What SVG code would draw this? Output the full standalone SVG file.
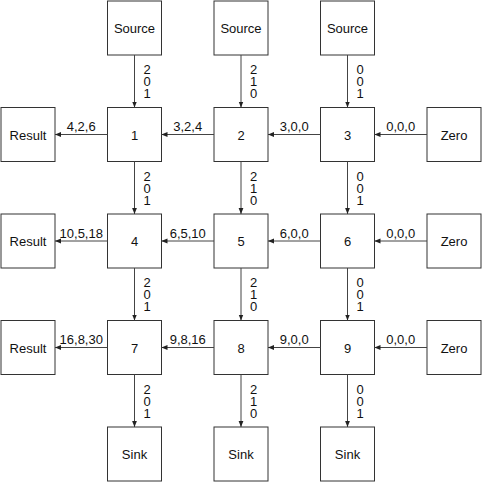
<svg xmlns="http://www.w3.org/2000/svg" width="483" height="483" viewBox="0 0 483 483">
<defs>
<marker id="ah" viewBox="0 0 6 6" refX="6" refY="3" markerWidth="6" markerHeight="6" markerUnits="userSpaceOnUse" orient="auto">
<path d="M0,0.6 L6,3 L0,5.4 Z" fill="#222"/>
</marker>
<style>
rect{fill:#fff;stroke:#333;stroke-width:1}
text{font-family:"Liberation Sans",Arial,sans-serif;font-size:13px;fill:#111}
.n{text-anchor:middle}
.e line{stroke:#444;stroke-width:1;marker-end:url(#ah)}
.l{font-size:13px}
.h{text-anchor:middle}
.v{font-size:13px;writing-mode:vertical-rl;text-orientation:upright;letter-spacing:-2.94px}
</style>
</defs>
<rect x="0" y="0" width="483" height="483" style="stroke:none;fill:#fff"/>
<g id="src1"><rect x="107.5" y="1" width="54" height="54"/><text class="n" x="134.5" y="33">Source</text></g>
<g id="src2"><rect x="214" y="1" width="54" height="54"/><text class="n" x="241" y="33">Source</text></g>
<g id="src3"><rect x="320.5" y="1" width="54" height="54"/><text class="n" x="347.5" y="33">Source</text></g>
<g id="res1"><rect x="1" y="107.5" width="54" height="54"/><text class="n" x="28" y="139.5">Result</text></g>
<g id="n1"><rect x="107.5" y="107.5" width="54" height="54"/><text class="n" x="134.5" y="139.5">1</text></g>
<g id="n2"><rect x="214" y="107.5" width="54" height="54"/><text class="n" x="241" y="139.5">2</text></g>
<g id="n3"><rect x="320.5" y="107.5" width="54" height="54"/><text class="n" x="347.5" y="139.5">3</text></g>
<g id="zero1"><rect x="427" y="107.5" width="54" height="54"/><text class="n" x="454" y="139.5">Zero</text></g>
<g id="res2"><rect x="1" y="214" width="54" height="54"/><text class="n" x="28" y="246">Result</text></g>
<g id="n4"><rect x="107.5" y="214" width="54" height="54"/><text class="n" x="134.5" y="246">4</text></g>
<g id="n5"><rect x="214" y="214" width="54" height="54"/><text class="n" x="241" y="246">5</text></g>
<g id="n6"><rect x="320.5" y="214" width="54" height="54"/><text class="n" x="347.5" y="246">6</text></g>
<g id="zero2"><rect x="427" y="214" width="54" height="54"/><text class="n" x="454" y="246">Zero</text></g>
<g id="res3"><rect x="1" y="320.5" width="54" height="54"/><text class="n" x="28" y="352.5">Result</text></g>
<g id="n7"><rect x="107.5" y="320.5" width="54" height="54"/><text class="n" x="134.5" y="352.5">7</text></g>
<g id="n8"><rect x="214" y="320.5" width="54" height="54"/><text class="n" x="241" y="352.5">8</text></g>
<g id="n9"><rect x="320.5" y="320.5" width="54" height="54"/><text class="n" x="347.5" y="352.5">9</text></g>
<g id="zero3"><rect x="427" y="320.5" width="54" height="54"/><text class="n" x="454" y="352.5">Zero</text></g>
<g id="sink1"><rect x="107.5" y="427" width="54" height="54"/><text class="n" x="134.5" y="459">Sink</text></g>
<g id="sink2"><rect x="214" y="427" width="54" height="54"/><text class="n" x="241" y="459">Sink</text></g>
<g id="sink3"><rect x="320.5" y="427" width="54" height="54"/><text class="n" x="347.5" y="459">Sink</text></g>
<g id="connectors" class="e">
<line x1="134.5" y1="55" x2="134.5" y2="107.5"/>
<line x1="241" y1="55" x2="241" y2="107.5"/>
<line x1="347.5" y1="55" x2="347.5" y2="107.5"/>
<line x1="134.5" y1="161.5" x2="134.5" y2="214"/>
<line x1="241" y1="161.5" x2="241" y2="214"/>
<line x1="347.5" y1="161.5" x2="347.5" y2="214"/>
<line x1="134.5" y1="268" x2="134.5" y2="320.5"/>
<line x1="241" y1="268" x2="241" y2="320.5"/>
<line x1="347.5" y1="268" x2="347.5" y2="320.5"/>
<line x1="134.5" y1="374.5" x2="134.5" y2="427"/>
<line x1="241" y1="374.5" x2="241" y2="427"/>
<line x1="347.5" y1="374.5" x2="347.5" y2="427"/>
<line x1="427" y1="134.5" x2="374.5" y2="134.5"/>
<line x1="320.5" y1="134.5" x2="268" y2="134.5"/>
<line x1="214" y1="134.5" x2="161.5" y2="134.5"/>
<line x1="107.5" y1="134.5" x2="55" y2="134.5"/>
<line x1="427" y1="241" x2="374.5" y2="241"/>
<line x1="320.5" y1="241" x2="268" y2="241"/>
<line x1="214" y1="241" x2="161.5" y2="241"/>
<line x1="107.5" y1="241" x2="55" y2="241"/>
<line x1="427" y1="347.5" x2="374.5" y2="347.5"/>
<line x1="320.5" y1="347.5" x2="268" y2="347.5"/>
<line x1="214" y1="347.5" x2="161.5" y2="347.5"/>
<line x1="107.5" y1="347.5" x2="55" y2="347.5"/>
</g>
<g id="labels">
<text class="v" x="147" y="62">201</text>
<text class="v" x="253.5" y="62">210</text>
<text class="v" x="360" y="62">001</text>
<text class="v" x="147" y="168.5">201</text>
<text class="v" x="253.5" y="168.5">210</text>
<text class="v" x="360" y="168.5">001</text>
<text class="v" x="147" y="275">201</text>
<text class="v" x="253.5" y="275">210</text>
<text class="v" x="360" y="275">001</text>
<text class="v" x="147" y="381.5">201</text>
<text class="v" x="253.5" y="381.5">210</text>
<text class="v" x="360" y="381.5">001</text>
<text class="l h" x="400.75" y="131">0,0,0</text>
<text class="l h" x="294.25" y="131">3,0,0</text>
<text class="l h" x="187.75" y="131">3,2,4</text>
<text class="l h" x="81.25" y="131">4,2,6</text>
<text class="l h" x="400.75" y="237.5">0,0,0</text>
<text class="l h" x="294.25" y="237.5">6,0,0</text>
<text class="l h" x="187.75" y="237.5">6,5,10</text>
<text class="l h" x="81.25" y="237.5">10,5,18</text>
<text class="l h" x="400.75" y="344">0,0,0</text>
<text class="l h" x="294.25" y="344">9,0,0</text>
<text class="l h" x="187.75" y="344">9,8,16</text>
<text class="l h" x="81.25" y="344">16,8,30</text>
</g>
</svg>
